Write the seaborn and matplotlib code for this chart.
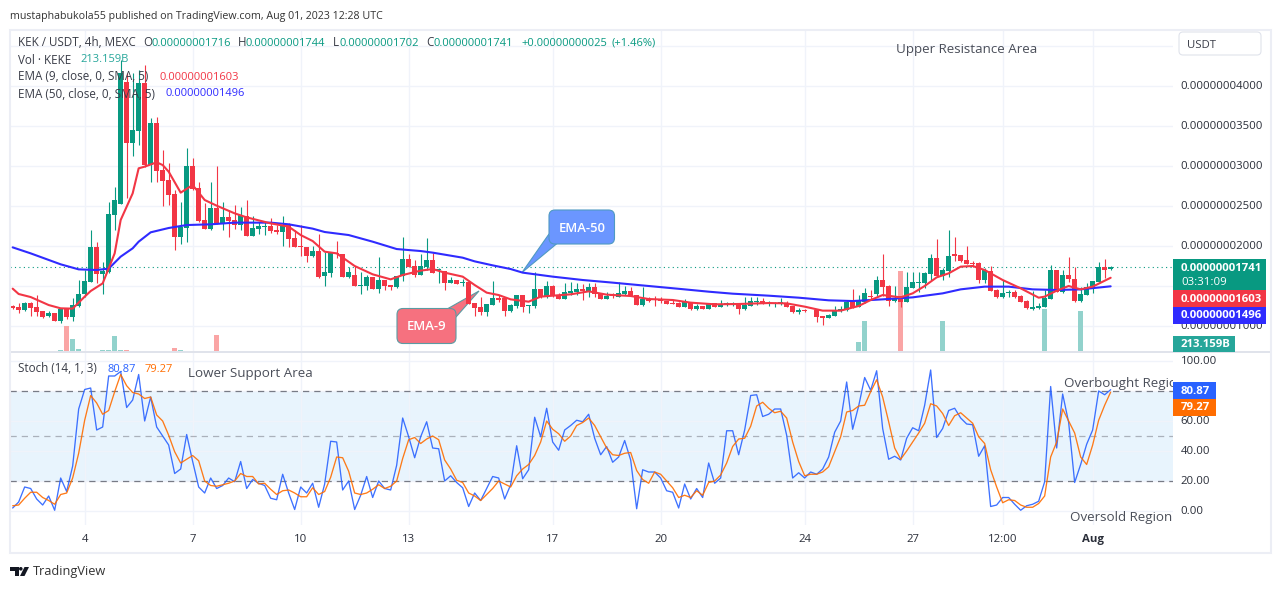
import numpy as np
import pandas as pd
import matplotlib
matplotlib.use("Agg")
import matplotlib.pyplot as plt
from matplotlib.patches import Rectangle, FancyBboxPatch, Polygon, Circle
from matplotlib.transforms import Affine2D, Bbox, IdentityTransform, TransformedBbox
import seaborn as sns

# Prices are in units of 0.00000000001 USDT; one entry per 4h candle
candle_open = [
 1254,1237,1200,1287,1237,1187,1125,1162,1062,1208,
 1112,1254,1396,1550,1983,1650,1675,2392,2525,4050,
 3287,3437,4037,3012,3537,2950,2825,2650,2112,2225,
 3000,2725,2325,2212,2475,2275,2362,2325,2262,2375,
 2125,2212,2242,2250,2200,2175,2262,2100,2000,1987,
 1875,1937,1625,1662,1912,1900,1612,1637,1504,1500,
 1612,1462,1575,1512,1487,1625,1837,1750,1637,1737,
 1825,1700,1687,1537,1575,1542,1550,1287,1237,1175,
 1262,1350,1346,1187,1250,1387,1250,1250,1462,1375,
 1500,1375,1337,1412,1425,1462,1425,1487,1412,1337,
 1387,1362,1400,1437,1387,1262,1337,1329,1325,1312,
 1287,1287,1237,1287,1212,1250,1212,1287,1242,1258,
 1275,1287,1212,1250,1300,1312,1283,1283,1287,1287,
 1250,1175,1200,1196,1200,1125,1104,1125,1187,1200,
 1300,1237,1300,1375,1400,1575,1500,1312,1375,1300,
 1475,1537,1537,1650,1850,1625,1687,1900,1887,1825,
 1787,1787,1575,1687,1450,1362,1408,1425,1375,1312,
 1212,1225,1237,1337,1700,1425,1637,1587,1312,1387,
 1475,1550,1737,1716]
candle_high = [
 1262,1283,1304,1304,1383,1187,1187,1162,1221,1208,
 1346,1575,1700,2200,2050,1800,2550,2742,4325,4158,
 4158,4200,4262,3596,3608,3200,3033,2700,2550,3225,
 3100,2800,2533,2800,3000,2550,2450,2512,2492,2575,
 2375,2304,2312,2350,2262,2375,2292,2200,2262,1992,
 2000,2150,1925,1925,2062,1900,1733,1750,1675,1637,
 1612,1862,1575,1512,1625,2112,1900,1825,1900,2100,
 1908,1721,1687,1608,1575,1583,1562,1287,1362,1275,
 1562,1387,1346,1275,1387,1387,1262,1675,1462,1562,
 1512,1408,1533,1550,1533,1525,1533,1533,1412,1425,
 1417,1550,1500,1487,1387,1487,1367,1375,1367,1312,
 1325,1300,1337,1287,1275,1250,1287,1287,1325,1300,
 1300,1287,1362,1367,1362,1350,1312,1300,1350,1312,
 1250,1221,1212,1200,1200,1125,1146,1250,1250,1325,
 1462,1387,1471,1450,1625,1900,1512,1500,1375,1675,
 1675,1675,1679,1900,2087,1729,2200,2112,1887,2000,
 1808,1800,1725,1750,1467,1575,1450,1450,1387,1325,
 1437,1283,1450,1762,1700,1700,1862,1737,1487,1533,
 1562,1800,1837,1744]
candle_low = [
 1217,1167,1187,1125,1125,1104,1112,1062,1037,1092,
 1062,1242,1367,1550,1533,1400,1658,2200,2525,2596,
 3125,3262,2992,2804,2796,2504,2512,1950,2025,2050,
 2700,2300,2212,2200,2275,2200,2117,2212,2200,2125,
 2125,2150,2137,2158,2150,2000,1992,1987,1875,1800,
 1867,1600,1500,1617,1850,1612,1596,1500,1400,1450,
 1462,1417,1450,1450,1471,1562,1737,1617,1637,1700,
 1667,1533,1454,1537,1529,1500,1275,1125,1137,1125,
 1262,1300,1125,1175,1225,1171,1162,1225,1346,1346,
 1367,1337,1337,1387,1387,1325,1367,1362,1337,1337,
 1350,1362,1387,1375,1262,1250,1300,1250,1283,1275,
 1275,1242,1237,1200,1200,1212,1212,1242,1242,1250,
 1250,1150,1200,1250,1262,1275,1250,1242,1262,1237,
 1158,1150,1175,1196,1050,1012,1100,1125,1175,1187,
 1225,1237,1292,1325,1375,1375,1250,1300,1237,1300,
 1475,1425,1475,1575,1612,1575,1612,1812,1800,1775,
 1742,1537,1537,1442,1350,1350,1362,1350,1300,1212,
 1200,1212,1237,1337,1425,1417,1554,1300,1300,1387,
 1412,1550,1600,1702]
candle_close = [
 1229,1204,1287,1229,1175,1112,1162,1062,1208,1112,
 1262,1396,1562,1983,1650,1687,2400,2575,4158,3287,
 3450,4037,3012,3537,2937,2812,2637,2112,2237,3000,
 2712,2312,2212,2475,2275,2362,2312,2262,2387,2125,
 2225,2250,2250,2187,2175,2262,2087,1987,1987,1875,
 1937,1612,1675,1912,1900,1612,1675,1500,1512,1612,
 1462,1575,1500,1492,1625,1837,1737,1637,1750,1825,
 1667,1712,1537,1575,1529,1554,1275,1225,1175,1275,
 1350,1325,1187,1262,1387,1237,1262,1462,1362,1500,
 1375,1337,1425,1437,1462,1437,1487,1400,1337,1375,
 1375,1412,1437,1375,1262,1337,1312,1321,1312,1275,
 1279,1242,1312,1212,1250,1212,1287,1242,1267,1287,
 1283,1212,1262,1312,1312,1275,1287,1287,1296,1237,
 1175,1200,1183,1200,1112,1104,1137,1200,1212,1300,
 1225,1312,1412,1367,1575,1487,1312,1337,1300,1487,
 1550,1550,1662,1850,1625,1700,1875,1875,1812,1775,
 1775,1575,1700,1442,1362,1412,1421,1362,1300,1225,
 1237,1250,1350,1700,1425,1637,1587,1312,1400,1487,
 1562,1737,1700,1741]
volume_b = [
 4,4,4,4,4,4,4,4,10,137,
 68,14,5,5,5,9,12,84,12,9,
 4,4,4,4,4,4,4,20,9,4,
 4,4,4,4,89,4,4,7,7,5,
 7,7,7,7,7,7,7,4,4,4,
 4,4,4,4,4,4,4,4,4,4,
 4,4,4,4,4,4,4,4,4,4,
 4,4,4,4,4,4,4,4,4,4,
 4,4,4,4,4,4,4,4,4,4,
 4,4,4,4,4,4,4,4,4,4,
 4,4,4,4,4,4,4,4,4,4,
 4,4,4,4,4,4,4,4,4,4,
 4,4,4,4,4,4,4,4,4,4,
 4,4,4,4,4,4,4,4,4,4,
 4,51,163,4,4,4,4,4,429,4,
 4,4,4,4,4,163,4,4,4,4,
 4,4,4,4,4,4,4,4,4,4,
 4,4,229,4,4,4,4,4,217,4,
 4,4,4,4]

ema50_bar = [0,3,8,11,14,16,18,20,21,23,26,29,33,37,43,46,50,52,56,60,64,68,70,75,77,80,83,85,90,95,100,106,112,116,120,126,131,136,140,145,150,155,158,162,166,170,174,178,183]
ema50_val = [1983,1908,1771,1708,1700,1717,1867,1971,2054,2171,2225,2262,2271,2292,2292,2271,2217,2175,2137,2054,1962,1937,1917,1854,1808,1758,1712,1667,1617,1575,1542,1500,1458,1429,1404,1379,1354,1321,1312,1333,1358,1408,1458,1492,1492,1458,1450,1458,1496]
ema9_bar = [0,1,3,6,8,10,12,13,15,17,18,20,21,22,24,25,26,28,30,32,34,37,39,43,46,48,50,52,54,57,60,63,65,68,70,72,75,77,79,81,83,86,88,90,93,96,99,103,106,110,113,117,121,126,129,132,135,138,141,143,145,148,150,152,154,156,158,160,162,165,168,171,172,174,176,178,180,183]
ema9_val = [1467,1400,1362,1262,1221,1217,1367,1437,1533,1908,2325,2658,2971,2992,3046,3012,2929,2667,2762,2575,2504,2408,2358,2283,2242,2137,2062,1929,1908,1750,1646,1583,1637,1692,1712,1667,1617,1512,1417,1387,1333,1304,1367,1379,1396,1433,1392,1375,1337,1325,1292,1271,1275,1287,1283,1242,1192,1192,1250,1325,1387,1358,1408,1500,1608,1658,1742,1750,1700,1575,1471,1354,1367,1442,1500,1458,1492,1603]

stoch_k = [
 2,6,16,15,8,4,10,0.5,22,13,
 30,68,81,82,54,56,90,90,93,69,
 74,91,60,76,56,50,44,25,28,51,
 33,16,12,22,15,17,22,19.5,33,15,
 21,18.5,17,8.5,7.5,24.5,12,1,16,12,
 18.5,2.5,18,46.5,46,14,20,1,10.5,23,
 9,20,15,14,30.5,62,49.5,35.5,49.5,59.5,
 42,41.5,20,23.5,19,15.5,3,12,7,15,
 23,22,8,17.5,43.5,21.5,27.5,62.5,49.5,68.5,
 46,40.5,54,57,60.5,59.5,64.5,48.5,37.5,43,
 32.5,36,47,34,1.5,27.5,26,26,22,13.5,
 12.5,2,18,8,15,9,32,18.5,22,53.5,
 53.5,37.5,54,77,77.5,63,64.5,68,68,50.5,
 22,25.5,22,26,24.5,28,36,52.5,60,86,
 54.5,70,89,80.5,93.5,55,34.5,36.5,34,48.5,
 55.5,53.5,70.5,94,49,55,67,68.5,62,58,
 57.5,36.5,43.5,3,4,9,9,4.5,0.5,3.5,
 4.5,6.5,19.5,83,42,78,59,19,31,44.5,
 54,80,77.5,80.87]
stoch_d = [
 3.5,4,8.5,12.5,12.5,9,7,4.5,11,12,
 22,38.5,60.5,77,72,64.5,67,79.5,91,83.5,
 79,78,75,76,64,60,50.5,39.5,32,34.5,
 37,33.5,20,17,16.5,17.5,18.5,20,25,23,
 23,18,18.5,14.5,11,13.5,14,12,9.5,9.5,
 15.5,11,13,22.5,36,35.5,26.5,12,11,12,
 14.5,17.5,15,16.5,20,35,47.5,49,45,48,
 50,47.5,34,28,20.5,19,12,10,7,11,
 15,20,18,16,23.5,28,31,37,46,60,
 54.5,51.5,46.5,50,57,59,62,57,49.5,42,
 37.5,37,38.5,39,27,21,18.5,26,24.5,20,
 15.5,9,10.5,9,13.5,10.5,19,20,24,32,
 43,48,48.5,56.5,70,72.5,68.5,65.5,66.5,62,
 46,33,23.5,24.5,24.5,26,29.5,39.5,49.5,66,
 67,70,70.5,79.5,87.5,76,59.5,42,34.5,40,
 46,52,58.5,71.5,70,65,57,63.5,65.5,62,
 58.5,49.5,45,27.5,16,5.5,7.5,7,4,2.5,
 2.5,5,10,36,46,68,60,52,36,31,
 44,60.5,70.5,79.27]

price_ticks = [1000,2000,2500,3000,3500,4000]
price_grid = [1000,1500,2000,2500,3000,3500,4000,4500]
stoch_ticks = [0,20,40,60,100]
stoch_grid = [0,20,40,60,80,100]
time_ticks = [12,30,48,66,90,108,132,150,165,180]
time_labels = ["4","7","10","13","17","20","24","27","12:00","Aug"]

for s in (candle_open, candle_high, candle_low, candle_close, volume_b, stoch_k, stoch_d):
    assert len(s) == 184, len(s)

W, H = 1281, 589
GREEN, RED, TEAL = "#089981", "#f23645", "#26a69a"
BLUE, SBLUE, ORANGE = "#2f2bff", "#2962ff", "#ff6d00"
TXT, TICK, GRID = "#3a3d48", "#2a2e39", "#f0f3fa"

sns.set_theme(style="white")
FONT = "Open Sans"
plt.rcParams["font.family"] = [FONT, "DejaVu Sans"]

fig = plt.figure(figsize=(W / 100, H / 100), dpi=100, facecolor="white")
px = Affine2D().scale(1, -1).translate(0, H)

def ax_rect(l, t, r, b):
    return [l / W, 1 - b / H, (r - l) / W, (b - t) / H]

df = pd.DataFrame({"o": candle_open, "h": candle_high, "l": candle_low, "c": candle_close,
                   "v": volume_b, "k": stoch_k, "d": stoch_d})
df["i"] = np.arange(len(df))
df["up"] = df.c >= df.o
df["col"] = np.where(df.up, GREEN, RED)
df["vcol"] = np.where(df.up, "#92d2cc", "#faa5a5")

# bar i sits at pixel 12.67 + 6 i
xlim = (-0.445, 193.39)

ax = fig.add_axes(ax_rect(10, 30, 1173, 352))
vax = ax.twinx()
vax.set_ylim(0, 321.5 * 5.33)
vax.set_xlim(*xlim)
vax.bar(df.i, df.v, width=0.8, color=df.vcol, linewidth=0)
vax.axis("off")
ax.set_zorder(vax.get_zorder() + 1)
ax.patch.set_visible(False)
vax.patch.set_visible(False)

bg = fig.add_axes(ax_rect(10, 30, 1173, 352), zorder=-5)
bg.set_xlim(*xlim); bg.set_ylim(675, 4700)
bg.set_xticks(time_ticks); bg.set_yticks(price_grid)
bg.tick_params(length=0, labelbottom=False, labelleft=False)
bg.grid(True, color=GRID, lw=1)
bg.set_axisbelow(True)
for sp in bg.spines.values():
    sp.set_visible(False)

ax.vlines(df.i, df.l, df.h, color=df.col, lw=0.8, zorder=2)
ax.bar(df.i, (df.c - df.o).abs().clip(lower=6), bottom=df[["o", "c"]].min(axis=1),
       width=0.82, color=df.col, linewidth=0, zorder=3)
sns.lineplot(x=ema50_bar, y=ema50_val, ax=ax, color=BLUE, lw=1.5, errorbar=None, zorder=4)
sns.lineplot(x=ema9_bar, y=ema9_val, ax=ax, color=RED, lw=1.5, errorbar=None, zorder=5)
ax.axhline(candle_close[-1], color=GREEN, lw=0.8, ls=(0, (1, 3)), zorder=1)
ax.set_xlim(*xlim); ax.set_ylim(675, 4700)
ax.set_xticks([])
ax.yaxis.tick_right()
ax.set_yticks(price_ticks)
ax.set_yticklabels([f"{v * 1e-11:.11f}" for v in price_ticks], fontsize=8.2, color=TICK)
ax.tick_params(axis="y", length=0, pad=5.5, right=False)
ax.set_xlabel(""); ax.set_ylabel("")
for sp in ax.spines.values():
    sp.set_visible(False)

sx = fig.add_axes(ax_rect(10, 352, 1173, 525))
sx.axhspan(20, 80, color="#2196f3", alpha=0.1, lw=0, zorder=0)
sx.set_xlim(*xlim); sx.set_ylim(-9.33, 106)
sx.vlines(time_ticks, -9.33, 106, color=GRID, lw=1, zorder=0.5)
sx.hlines(stoch_grid, *xlim, color=GRID, lw=1, zorder=0.5)
sx.hlines([20, 80], *xlim, color="#787b86", lw=0.9, ls=(0, (5, 4)), zorder=1)
sx.hlines([50], *xlim, color="#787b86", lw=0.9, ls=(0, (5, 4)), alpha=0.55, zorder=1)
sns.lineplot(data=df, x="i", y="k", ax=sx, color=SBLUE, lw=0.95, alpha=0.9, errorbar=None, zorder=3)
sns.lineplot(data=df, x="i", y="d", ax=sx, color=ORANGE, lw=0.95, alpha=0.9, errorbar=None, zorder=4)
sx.yaxis.tick_right()
sx.set_yticks(stoch_ticks)
sx.set_yticklabels([f"{v:.2f}" for v in stoch_ticks], fontsize=8.2, color=TICK)
sx.set_xticks(time_ticks)
sx.set_xticklabels(time_labels, fontsize=8.2, color=TICK)
sx.get_xticklabels()[-1].set_fontweight("bold")
sx.tick_params(axis="both", length=0)
sx.tick_params(axis="y", pad=5.5)
sx.tick_params(axis="x", pad=6.5)
sx.set_xlabel(""); sx.set_ylabel("")
for sp in sx.spines.values():
    sp.set_visible(False)
for a in (ax, sx):
    for lb in a.get_yticklabels():
        lb.set_transform(lb.get_transform() + Affine2D().translate(0, 0.7))

# frame and divider
def add(art):
    art.set_transform(px)
    fig.add_artist(art)
    return art

add(Rectangle((9.5, 29.5), 1261, 523.5, fill=False, ec="#eceef5", lw=1.5, zorder=20))
add(Rectangle((10, 351.2), 1260, 1.3, fc="#e0e3eb", ec="none", zorder=9))

def label(x, y, s, color=TXT, size=8.4, weight="normal", ha="left", z=30, dy=1, **kw):
    return fig.text(x, y + dy, s, color=color, fontsize=size, fontweight=weight, ha=ha, va="center",
                    transform=px, zorder=z, **kw)

def tag(l, t, r, b, col, lines):
    add(Rectangle((l, t), r - l, b - t, fc=col, ec="none", zorder=25))
    for (x, y, s) in lines:
        label(x, y, s, color="white", weight="bold", size=8.2, z=26, dy=0.5)

tag(1173, 259, 1266, 290, GREEN, [(1181, 268, "0.00000001741")])
label(1181, 282, "03:31:09", color="white", size=8.2, z=26, dy=0.5)
tag(1173, 290, 1266, 307, RED, [(1181, 298.5, "0.00000001603")])
tag(1173, 307, 1266, 324, BLUE, [(1181, 315.5, "0.00000001496")])
tag(1173, 336, 1235, 352, TEAL, [(1181, 344, "213.159B")])
tag(1173, 382, 1216, 399, SBLUE, [(1181, 390.5, "80.87")])
tag(1173, 399, 1216, 416, ORANGE, [(1181, 407.5, "79.27")])

# USDT box
add(FancyBboxPatch((1179, 32), 82, 23, boxstyle="round,pad=0,rounding_size=4", fc="white",
                   ec="#e0e3eb", lw=0.8, zorder=20))
label(1187, 44, "USDT", size=8.2)

# header / legend
VAL = 8.0
label(10, 15, "mustaphabukola55 published on TradingView.com, Aug 01, 2023 12:28 UTC", color="#333333", size=7.7)
label(18, 42, "KEK / USDT, 4h, MEXC")
for x, s in [(143, "O"), (238, "H"), (333, "L"), (426, "C")]:
    label(x, 42, s)
for x, s in [(151, "0.00000001716"), (246, "0.00000001744"), (340, "0.00000001702"),
             (434, "0.00000001741"), (521, "+0.00000000025"), (611, "(+1.46%)")]:
    label(x, 42, s, color=GREEN, size=VAL)
label(18, 59, "Vol · KEKE"); label(80, 59, "213.159B", color=TEAL, size=VAL)
label(18, 76, "EMA (9, close, 0, SMA, 5)"); label(159, 76, "0.00000001603", color=RED, size=VAL)
label(18, 93, "EMA (50, close, 0, SMA, 5)"); label(165, 93, "0.00000001496", color=BLUE, size=VAL)
label(18, 368, "Stoch (14, 1, 3)"); label(108, 368, "80.87", color=SBLUE, size=VAL); label(145, 368, "79.27", color=ORANGE, size=VAL)

# drawn annotations
ANN = "#4a4e59"
label(896, 48, "Upper Resistance Area", color=ANN, size=9.6, dy=2)
label(188, 372, "Lower Support Area", color=ANN, size=9.6, dy=2)
t = label(1064, 382, "Overbought Region", color=ANN, size=9.6, dy=2)
t.set_clip_box(TransformedBbox(Bbox([[0, 0], [1173, H]]), IdentityTransform()))
t.set_clip_on(True)
label(1070, 516, "Oversold Region", color=ANN, size=9.6, dy=2)

def under(art, z):
    # sits in the price axes beneath the candles, as in the reference
    art.set_transform(px)
    art.set_clip_on(False)
    art.set_zorder(z)
    ax.add_artist(art)

def callout(l, t, r, b, tail, fc, ec, s):
    under(Polygon(tail, closed=True, fc=fc, ec=ec, lw=0.8), 1.5)
    under(FancyBboxPatch((l, t), r - l, b - t, boxstyle="round,pad=0,rounding_size=6", fc=fc, ec=ec, lw=0.8), 1.6)
    inner = ((tail[0][0] + tail[2][0]) / 2 + (l + r - tail[0][0] - tail[2][0]) / 8,
             (tail[0][1] + tail[2][1]) / 2 + (t + b - tail[0][1] - tail[2][1]) / 8)
    under(Polygon([tail[0], tail[2], inner], closed=True, fc=fc, ec="none"), 1.7)
    label((l + r) / 2, (t + b) / 2, s, color="white", size=9.4, weight="semibold", ha="center", z=24)

callout(549, 210, 614.5, 244, [(549, 234), (522, 272.5), (557, 243.5)], "#6b96ff", "#4f9ac2", "EMA-50")
callout(397, 308.5, 456, 343.5, [(456, 317), (479, 291), (448, 308.5)], "#f6717f", "#5b9ba3", "EMA-9")

# TradingView mark
add(Polygon([(10, 567), (18.5, 567), (18.5, 576), (14.5, 576), (14.5, 570.5), (10, 570.5)], closed=True, fc="#131722", ec="none", zorder=30))
add(Circle((20.8, 568.8), 1.8, fc="#131722", ec="none", zorder=30))
add(Polygon([(24.5, 567), (29, 567), (24.5, 576), (20, 576)], closed=True, fc="#131722", ec="none", zorder=30))
label(33, 571.5, "TradingView", color="#333333", size=9.2, dy=0)

fig.savefig("out.png", dpi=100, facecolor="white")
